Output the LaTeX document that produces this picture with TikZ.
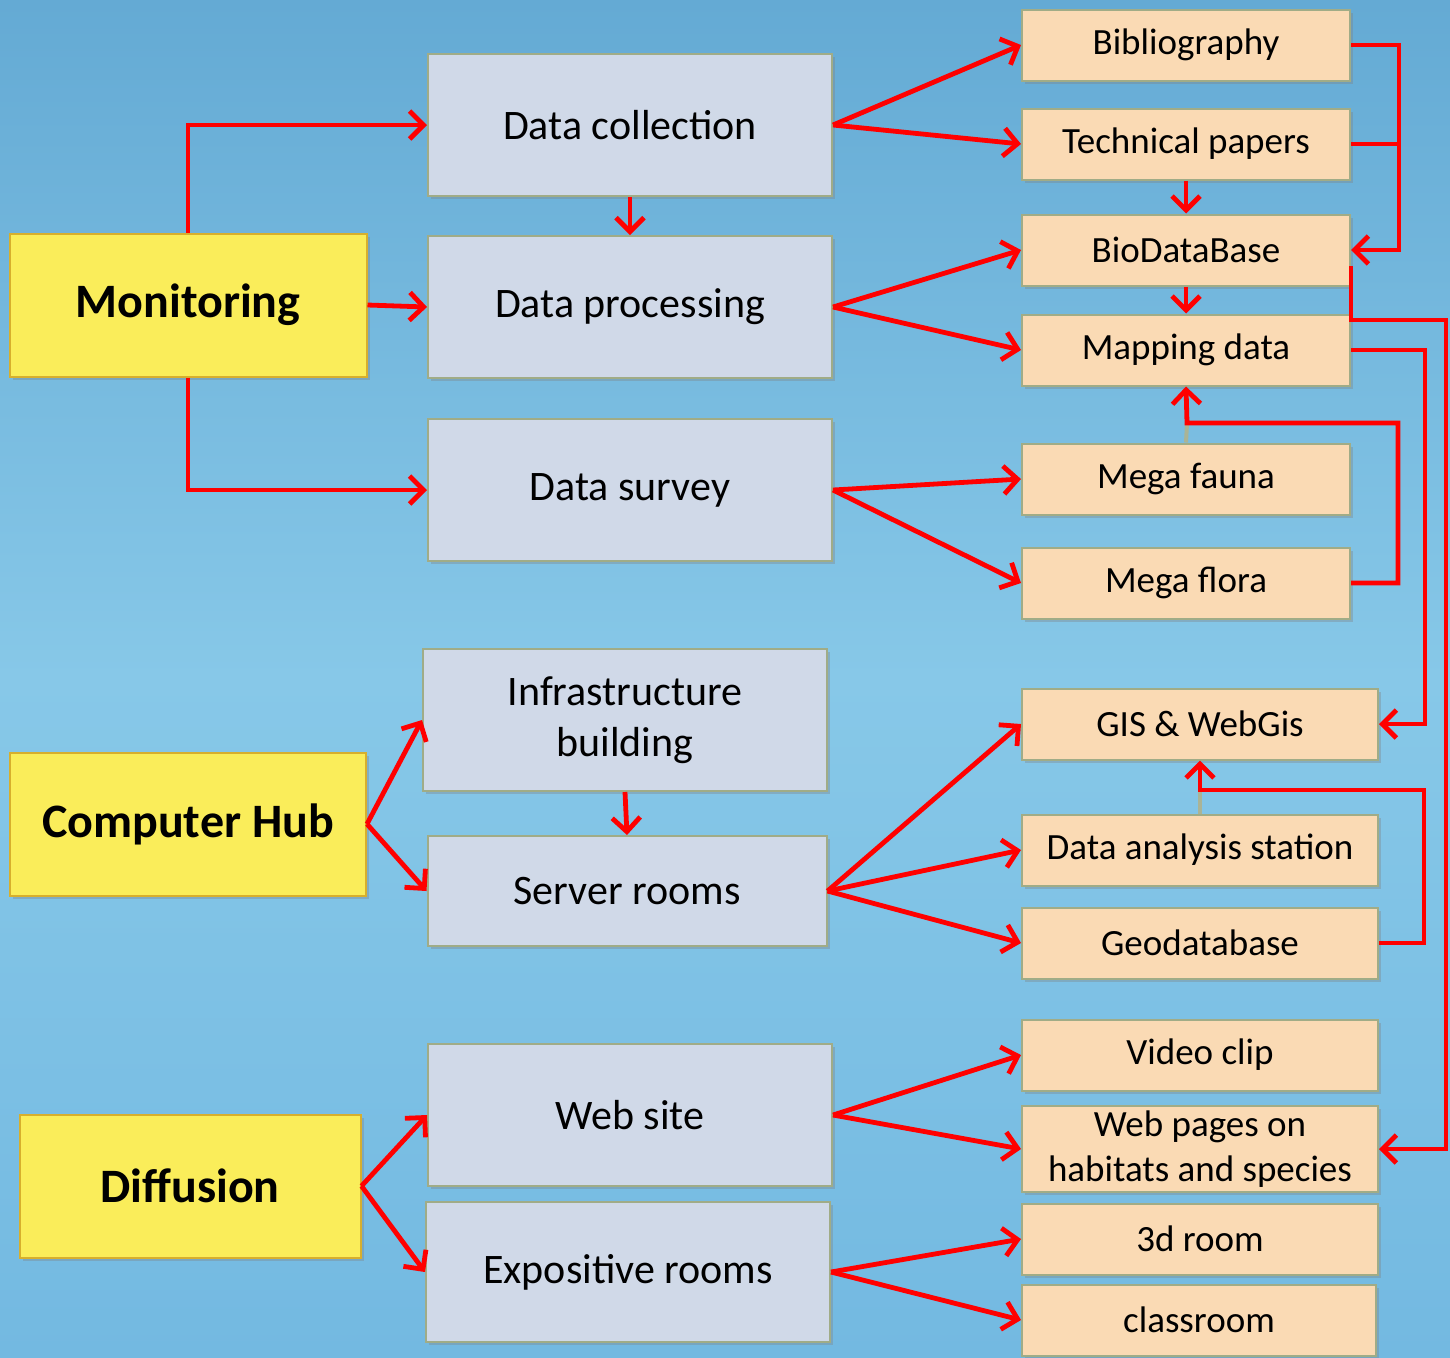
\documentclass[tikz,border=0pt]{standalone}
\usepackage{fontspec}
\setmainfont{Carlito}
\usetikzlibrary{arrows.meta}
\usetikzlibrary{shadows}
\usetikzlibrary{calc}

\definecolor{seatop}{RGB}{100,170,212}
\definecolor{seamid}{RGB}{135,200,232}
\definecolor{seabot}{RGB}{115,185,225}
\definecolor{taskgray}{RGB}{208,217,232}
\definecolor{taskline}{RGB}{160,172,135}
\definecolor{areayellow}{RGB}{250,237,90}
\definecolor{arealine}{RGB}{215,175,45}
\definecolor{itempeach}{RGB}{250,218,180}
\definecolor{stubline}{RGB}{170,180,150}

\begin{document}
\begin{tikzpicture}[x=0.5pt,y=-0.5pt,
    box/.style={line width=1pt, inner sep=0pt, align=center,
        drop shadow={shadow xshift=1.5pt, shadow yshift=-1.5pt, opacity=0.35}},
    area/.style={box, draw=arealine, fill=areayellow, minimum height=71.5pt,
        font=\bfseries\fontsize{24}{28}\selectfont},
    task/.style={box, draw=taskline, fill=taskgray, minimum width=202pt, minimum height=71pt,
        font=\fontsize{21}{25.5}\selectfont},
    item/.style={box, draw=taskline, fill=itempeach, minimum width=164pt, minimum height=35.5pt,
        font=\fontsize{18.5}{22.5}\selectfont},
    flow/.style={red, line width=2.4pt, line join=miter,
        -{Straight Barb[length=7pt,width=14pt,line width=2.4pt]}},
    feed/.style={red, line width=2.4pt, line join=miter},
]
    % sea background
    \shade[top color=seatop, bottom color=seabot, middle color=seamid] (0,0) rectangle (1450,1357);
    \useasboundingbox (0,0) rectangle (1450,1357);

    % the three areas
    \node[area, minimum width=178.5pt] (mon) at (188,305) {Monitoring};
    \node[area, minimum width=178pt] (hub) at (188,824) {Computer Hub};
    \node[area, minimum width=170.5pt] (diff) at (190,1186) {Diffusion};

    % tasks
    \node[task] (dcol) at (630,125) {Data collection};
    \node[task] (dproc) at (630,307) {Data processing};
    \node[task] (dsur) at (630,490) {Data survey};
    \node[task] (infra) at (625,720) {Infrastructure\\building};
    \node[task, minimum width=199.5pt, minimum height=55pt] (server) at (627,891) {Server rooms};
    \node[task] (web) at (630,1115) {Web site};
    \node[task, minimum height=70pt] (expo) at (628,1272) {Expositive rooms};

    % products
    \node[item] (bib) at (1186,45) {Bibliography};
    \node[item] (tech) at (1186,144) {Technical papers};
    \node[item] (biodb) at (1186,250) {BioDataBase};
    \node[item] (map) at (1186,350) {Mapping data};
    \node[item] (fauna) at (1186,479) {Mega fauna};
    \node[item] (flora) at (1186,583) {Mega flora};
    \node[item, minimum width=178pt] (gis) at (1200,724) {GIS \& WebGis};
    \node[item, minimum width=178pt] (station) at (1200,850) {Data analysis station};
    \node[item, minimum width=178pt] (geodb) at (1200,943) {Geodatabase};
    \node[item, minimum width=178pt] (video) at (1200,1055) {Video clip};
    \node[item, minimum width=178pt, minimum height=43pt] (wpages) at (1200,1149) {Web pages on\\habitats and species};
    \node[item, minimum width=178pt] (room) at (1200,1239) {3d room};
    \node[item, minimum width=177pt] (class) at (1199,1320) {classroom};

    % areas to tasks
    \draw[flow] (mon.north) |- (dcol.west);
    \draw[flow] (mon.east) -- (dproc.west);
    \draw[flow] (mon.south) |- (dsur.west);
    \draw[flow] (dcol.south) -- (dproc.north);
    \foreach \t in {infra,server}
        \draw[flow] (hub.east) -- (\t.west);
    \draw[flow] (infra.south) -- (server.north);
    \foreach \t in {web,expo}
        \draw[flow] (diff.east) -- (\t.west);

    % tasks to products
    \foreach \t/\a/\b in {dcol/bib/tech, dproc/biodb/map, dsur/fauna/flora,
                          web/video/wpages, expo/room/class} {
        \draw[flow] (\t.east) -- (\a.west);
        \draw[flow] (\t.east) -- (\b.west);
    }
    \foreach \p in {gis,station,geodb}
        \draw[flow] (server.east) -- (\p.west);

    % links between products
    \coordinate (biojog) at (1446,320);
    \coordinate (florajog) at (1187,423);
    \coordinate (geojog) at (1200,790);
    \draw[stubline, line width=2pt] (fauna.north) -- (florajog);
    \draw[stubline, line width=2pt] (station.north) -- (geojog);
    \draw[feed] (tech.east) -- ++(48,0);
    \draw[flow] (bib.east) -- ++(48,0) |- (biodb.east);
    \draw[flow] (tech.south) -- (biodb.north);
    \draw[flow] (biodb.south) -- (map.north);
    \draw[flow] ($(biodb.east)+(0,16)$) |- (biojog) |- (wpages.east);
    \draw[flow] (map.east) -- ++(74,0) |- (gis.east);
    \draw[flow] (flora.east) -| (1398,423) -- (florajog) -- (map.south);
    \draw[flow] (geodb.east) -| (1424,790) -- (geojog) -- (gis.south);
\end{tikzpicture}
\end{document}
